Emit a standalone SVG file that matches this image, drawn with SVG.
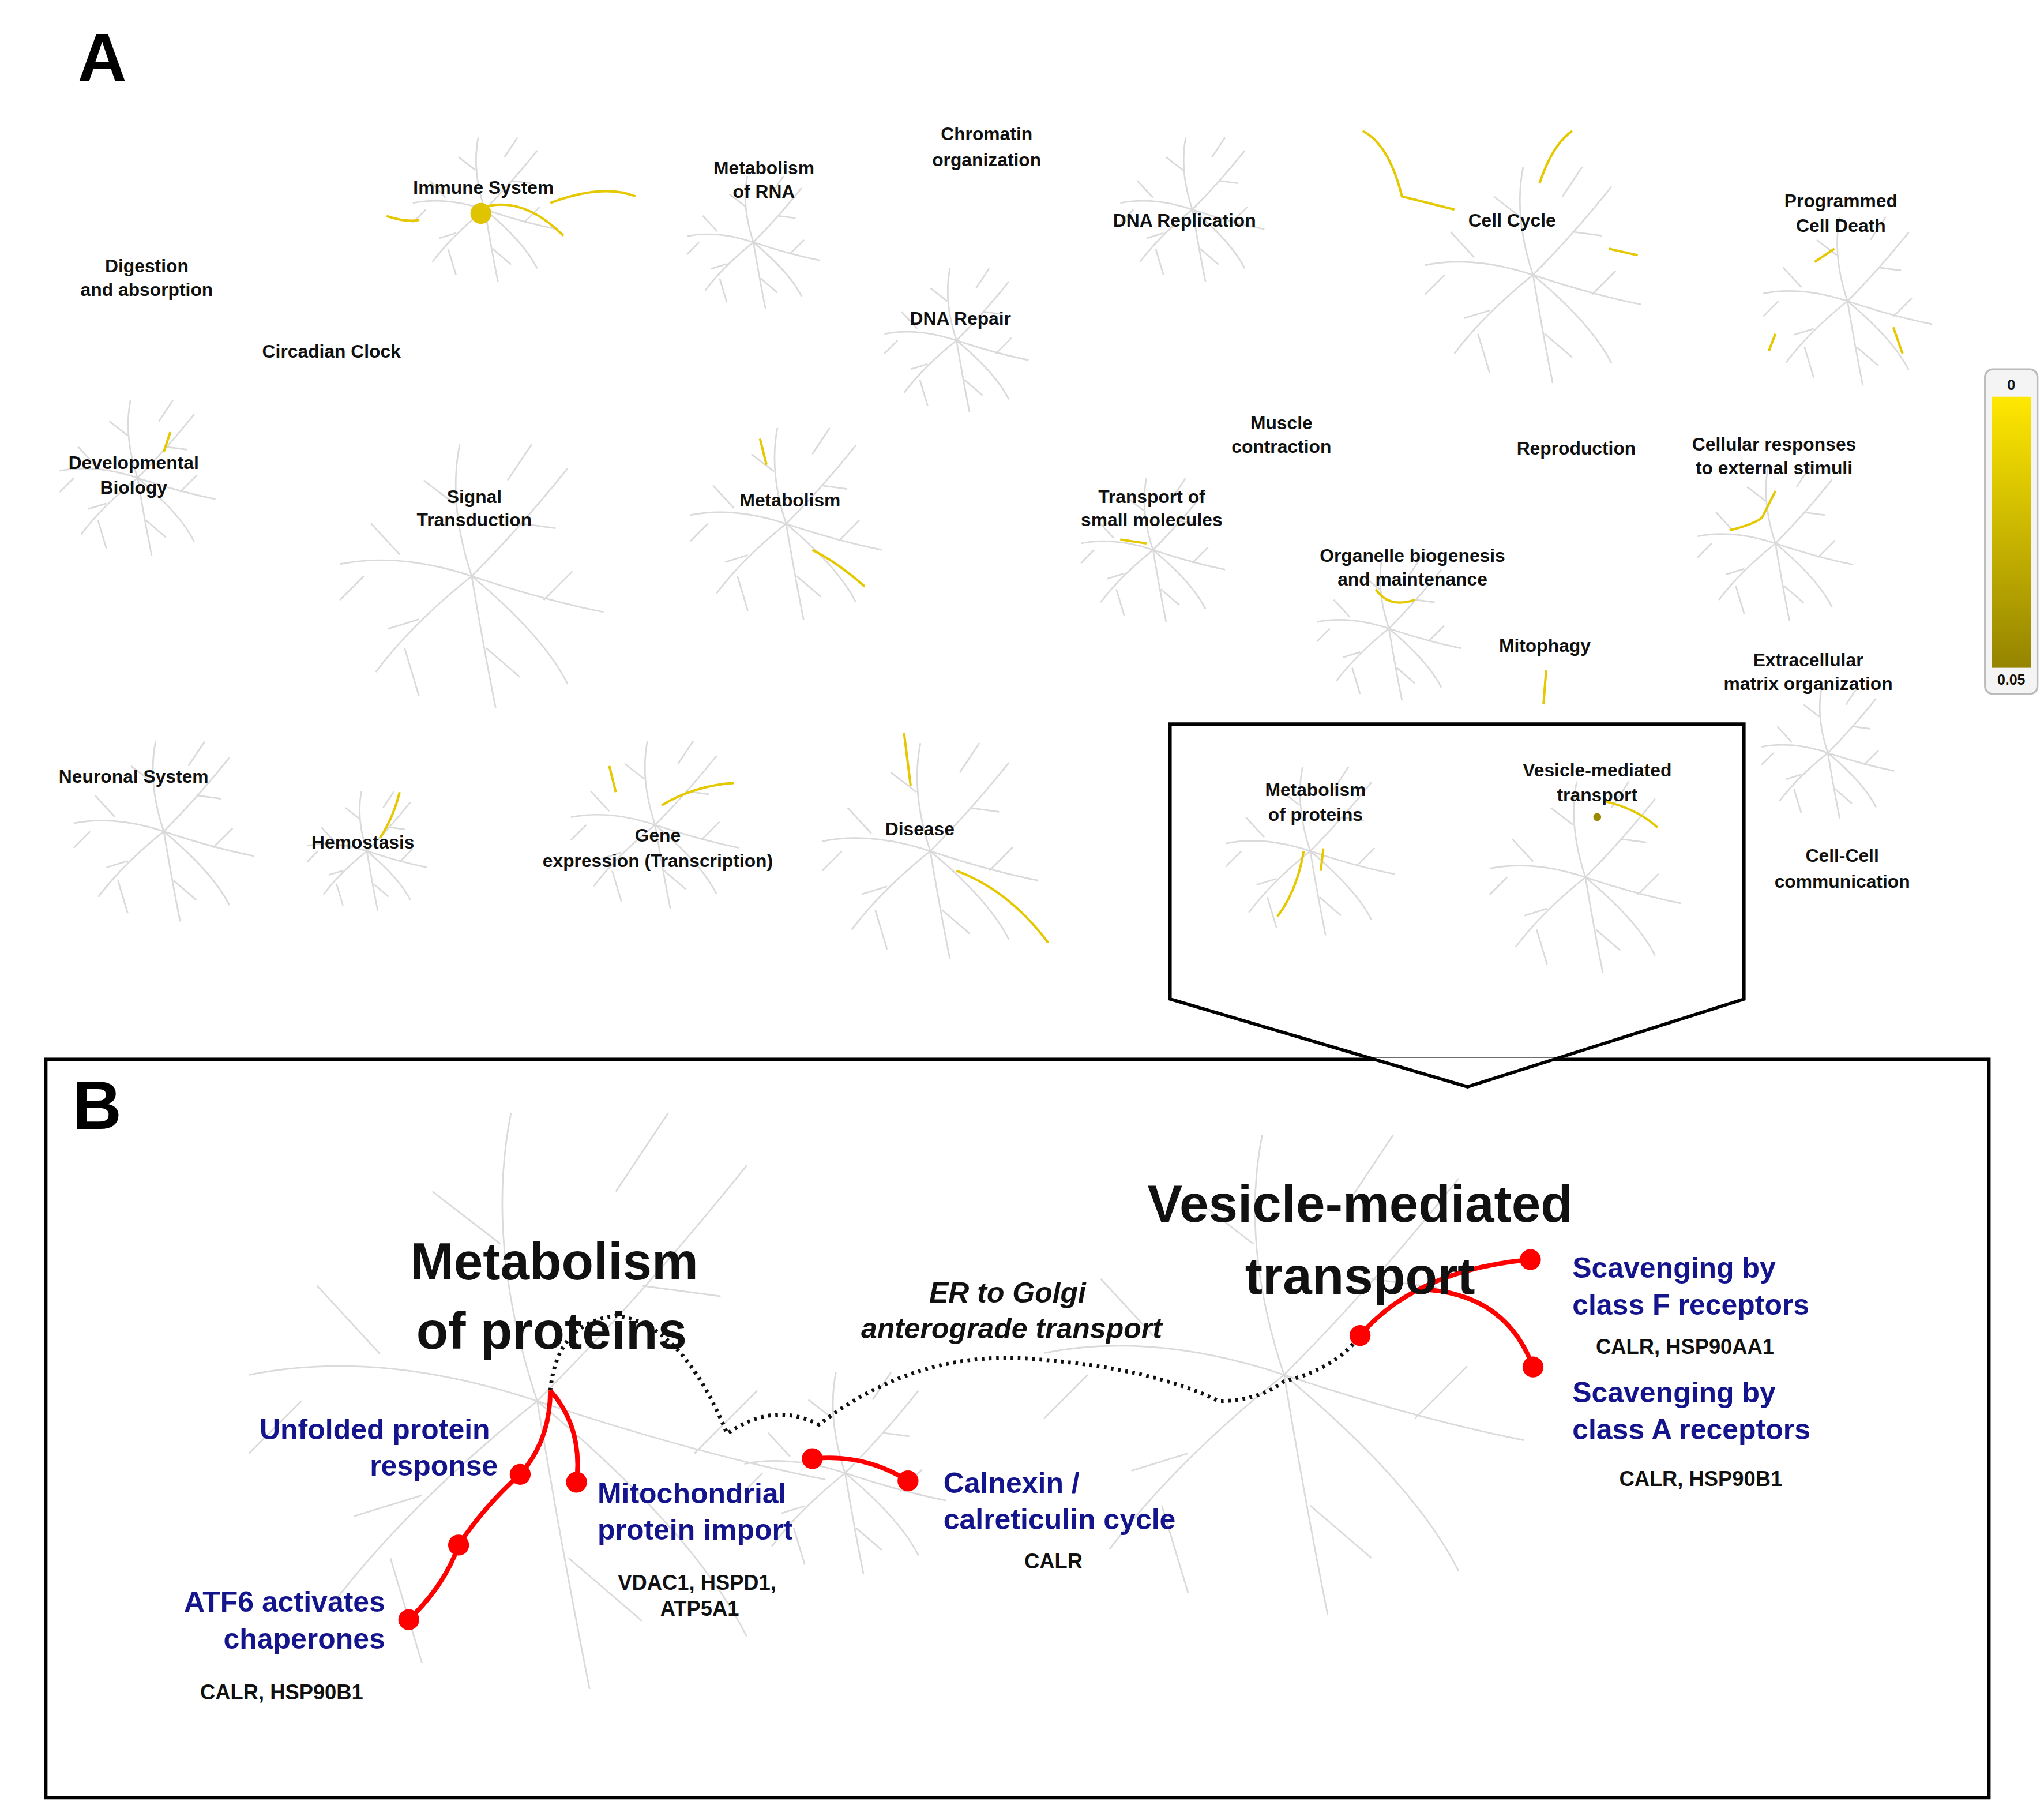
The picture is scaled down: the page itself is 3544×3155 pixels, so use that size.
<svg xmlns="http://www.w3.org/2000/svg" width="3544" height="3155" viewBox="0 0 3544 3155">
<defs>
<style>
.l{font-family:"Liberation Sans",Arial,sans-serif;font-weight:bold;font-size:14px;fill:#111;text-anchor:middle}
.big{font-family:"Liberation Sans",Arial,sans-serif;font-weight:bold;font-size:40px;fill:#111;text-anchor:middle}
.it{font-family:"Liberation Sans",Arial,sans-serif;font-weight:bold;font-style:italic;font-size:22px;fill:#111;text-anchor:middle}
.bl{font-family:"Liberation Sans",Arial,sans-serif;font-weight:bold;font-size:22px;fill:#14148c}
.g{font-family:"Liberation Sans",Arial,sans-serif;font-weight:bold;font-size:16px;fill:#111;text-anchor:middle}
.y{fill:none;stroke:#e6c800;stroke-width:1.8}
.r{fill:none;stroke:#f00;stroke-width:3.5}
.d{fill:#f00}
#trees use{fill:none;stroke:#dadada}
</style>
<linearGradient id="grad" x1="0" y1="0" x2="0" y2="1"><stop offset="0" stop-color="#ffe800"/><stop offset="1" stop-color="#958400"/></linearGradient>
<path id="tree" d="M0,0 Q20,-20 40,-45 M20,-22 L35,-20 M0,0 Q-10,-30 -5,-55 M-7,-30 L-20,-40 M0,0 Q-30,-10 -55,-5 M-30,-9 L-42,-22 M0,0 Q-25,20 -40,40 M-22,18 L-35,22 M0,0 Q5,30 10,55 M6,30 L20,42 M0,0 Q30,10 55,15 M30,10 L42,-2 M0,0 Q30,25 40,45 M-28,30 L-22,50 M15,-40 L25,-55 M-45,0 L-55,10"/>
</defs>
<rect width="3544" height="3155" fill="#fff"/>
<g transform="scale(2.2718,2.2698)">
<g id="trees">
<use href="#tree" transform="translate(370,160) scale(1)" stroke-width="1.2"/>
<use href="#tree" transform="translate(575,185) scale(0.92)" stroke-width="1.3"/>
<use href="#tree" transform="translate(730,260) scale(1)" stroke-width="1.2"/>
<use href="#tree" transform="translate(910,160) scale(1)" stroke-width="1.2"/>
<use href="#tree" transform="translate(1170,210) scale(1.5)" stroke-width="0.8"/>
<use href="#tree" transform="translate(1410,230) scale(1.17)" stroke-width="1"/>
<use href="#tree" transform="translate(105,365) scale(1.08)" stroke-width="1.1"/>
<use href="#tree" transform="translate(360,440) scale(1.83)" stroke-width="0.65"/>
<use href="#tree" transform="translate(600,400) scale(1.33)" stroke-width="0.9"/>
<use href="#tree" transform="translate(880,420) scale(1)" stroke-width="1.2"/>
<use href="#tree" transform="translate(1060,480) scale(1)" stroke-width="1.2"/>
<use href="#tree" transform="translate(1355,415) scale(1.08)" stroke-width="1.1"/>
<use href="#tree" transform="translate(125,635) scale(1.25)" stroke-width="1"/>
<use href="#tree" transform="translate(280,650) scale(0.83)" stroke-width="1.4"/>
<use href="#tree" transform="translate(500,630) scale(1.17)" stroke-width="1"/>
<use href="#tree" transform="translate(710,650) scale(1.5)" stroke-width="0.8"/>
<use href="#tree" transform="translate(1000,650) scale(1.17)" stroke-width="1"/>
<use href="#tree" transform="translate(1210,670) scale(1.33)" stroke-width="0.9"/>
<use href="#tree" transform="translate(1395,575) scale(0.92)" stroke-width="1.3"/>
<use href="#tree" transform="translate(410,1070) scale(4)" stroke-width="0.3"/>
<use href="#tree" transform="translate(980,1050) scale(3.33)" stroke-width="0.36"/>
<use href="#tree" transform="translate(645,1125) scale(1.4)" stroke-width="0.86"/>
</g>
<g id="highlights">
<circle cx="367" cy="163" r="8" fill="#e0c400"/>
<path class="y" d="M370,158 Q400,150 430,180 M420,155 Q460,140 485,150 M295,165 Q310,170 320,168"/>
<path class="y" d="M1040,100 Q1060,110 1070,150 L1110,160 M1175,140 Q1185,110 1200,100 M1228,190 L1250,195"/>
<path class="y" d="M1385,200 L1400,190 M1355,255 L1350,268 M1445,250 L1452,270"/>
<path class="y" d="M130,330 L125,345 M580,335 L585,355 M620,420 Q640,430 660,448 M855,412 L875,415"/>
<path class="y" d="M1320,405 Q1340,400 1345,395 L1355,375 M1050,450 Q1060,465 1080,458 M1180,512 L1178,538"/>
<path class="y" d="M305,605 Q300,625 290,640 M465,585 L470,605 M505,615 Q530,600 560,598 M690,560 L695,600 M730,665 Q770,680 800,720"/>
<path class="y" d="M995,650 Q990,680 975,700 M1010,648 L1008,665 M1225,612 Q1250,618 1265,632"/>
<circle cx="1219" cy="624" r="3" fill="#9a8a00"/>
</g>
<g id="panelA-labels">
<text x="78" y="62" style="font-family:'Liberation Sans',Arial,sans-serif;font-weight:bold;font-size:52px" text-anchor="middle">A</text>
<text class="l" x="369" y="148">Immune System</text>
<text class="l" x="583" y="133">Metabolism</text><text class="l" x="583" y="151">of RNA</text>
<text class="l" x="753" y="107">Chromatin</text><text class="l" x="753" y="127">organization</text>
<text class="l" x="904" y="173">DNA Replication</text>
<text class="l" x="1154" y="173">Cell Cycle</text>
<text class="l" x="1405" y="158">Programmed</text><text class="l" x="1405" y="177">Cell Death</text>
<text class="l" x="112" y="208">Digestion</text><text class="l" x="112" y="226">and absorption</text>
<text class="l" x="253" y="273">Circadian Clock</text>
<text class="l" x="733" y="248">DNA Repair</text>
<text class="l" x="102" y="358">Developmental</text><text class="l" x="102" y="377">Biology</text>
<text class="l" x="362" y="384">Signal</text><text class="l" x="362" y="402">Transduction</text>
<text class="l" x="603" y="387">Metabolism</text>
<text class="l" x="978" y="328">Muscle</text><text class="l" x="978" y="346">contraction</text>
<text class="l" x="1203" y="347">Reproduction</text>
<text class="l" x="1354" y="344">Cellular responses</text><text class="l" x="1354" y="362">to external stimuli</text>
<text class="l" x="879" y="384">Transport of</text><text class="l" x="879" y="402">small molecules</text>
<text class="l" x="1078" y="429">Organelle biogenesis</text><text class="l" x="1078" y="447">and maintenance</text>
<text class="l" x="1179" y="498">Mitophagy</text>
<text class="l" x="1380" y="509">Extracellular</text><text class="l" x="1380" y="527">matrix organization</text>
<text class="l" x="102" y="598">Neuronal System</text>
<text class="l" x="277" y="648">Hemostasis</text>
<text class="l" x="502" y="643">Gene</text><text class="l" x="502" y="662">expression (Transcription)</text>
<text class="l" x="702" y="638">Disease</text>
<text class="l" x="1004" y="608">Metabolism</text><text class="l" x="1004" y="627">of proteins</text>
<text class="l" x="1219" y="593">Vesicle-mediated</text><text class="l" x="1219" y="612">transport</text>
<text class="l" x="1406" y="658">Cell-Cell</text><text class="l" x="1406" y="678">communication</text>
</g>
<g id="legend">
<rect x="1515" y="282" width="40" height="248" rx="6" fill="#f4f4f4" stroke="#bbb" stroke-width="1.5"/>
<rect x="1520" y="303" width="30" height="207" fill="url(#grad)"/>
<text class="l" x="1535" y="298" style="font-size:11px">0</text>
<text class="l" x="1535" y="523" style="font-size:11px">0.05</text>
</g>
<g id="frames">
<rect x="35" y="809" width="1483" height="564" fill="none" stroke="#000" stroke-width="2.5"/>
<path d="M1048,808 L1192,808 L1120,829 Z" fill="#fff"/>
<path d="M893,553 H1331 V763 L1120,830 L893,763 Z" fill="none" stroke="#000" stroke-width="2.5"/>
<text x="74" y="862" style="font-family:'Liberation Sans',Arial,sans-serif;font-weight:bold;font-size:52px" text-anchor="middle">B</text>
</g>
<g id="connectors">
<path d="M420,1062 Q425,1010 470,1005 Q520,1010 555,1095 Q590,1070 625,1088 Q700,1030 790,1038 Q880,1045 930,1070 Q960,1070 980,1055 Q1020,1045 1038,1020" fill="none" stroke="#111" stroke-width="3" stroke-dasharray="2,3.5"/>
<path class="r" d="M420,1062 Q420,1100 397,1126 Q370,1150 350,1180 Q340,1210 312,1237"/>
<path class="r" d="M420,1062 Q445,1090 440,1132"/>
<path class="r" d="M620,1114 Q660,1110 693,1131"/>
<path class="r" d="M1038,1020 Q1080,970 1168,962"/>
<path class="r" d="M1090,985 Q1150,990 1170,1044"/>
</g>
<g id="nodesB">
<circle class="d" cx="397" cy="1126" r="8"/><circle class="d" cx="350" cy="1180" r="8"/><circle class="d" cx="312" cy="1237" r="8"/>
<circle class="d" cx="440" cy="1132" r="8"/><circle class="d" cx="620" cy="1114" r="8"/><circle class="d" cx="693" cy="1131" r="8"/>
<circle class="d" cx="1038" cy="1020" r="8"/><circle class="d" cx="1168" cy="962" r="8"/><circle class="d" cx="1170" cy="1044" r="8"/>
<text class="big" x="423" y="977">Metabolism</text><text class="big" x="421" y="1030">of proteins</text>
<text class="big" x="1038" y="933">Vesicle-mediated</text><text class="big" x="1038" y="988">transport</text>
<text class="it" x="769" y="995">ER to Golgi</text><text class="it" x="772" y="1022">anterograde transport</text>
<text class="bl" x="374" y="1099" text-anchor="end">Unfolded protein</text><text class="bl" x="380" y="1127" text-anchor="end">response</text>
<text class="bl" x="456" y="1148">Mitochondrial</text><text class="bl" x="456" y="1176">protein import</text>
<text class="bl" x="294" y="1231" text-anchor="end">ATF6 activates</text><text class="bl" x="294" y="1259" text-anchor="end">chaperones</text>
<text class="bl" x="720" y="1140">Calnexin /</text><text class="bl" x="720" y="1168">calreticulin cycle</text>
<text class="bl" x="1200" y="976">Scavenging by</text><text class="bl" x="1200" y="1004">class F receptors</text>
<text class="bl" x="1200" y="1071">Scavenging by</text><text class="bl" x="1200" y="1099">class A receptors</text>
<text class="g" x="215" y="1298">CALR, HSP90B1</text>
<text class="g" x="532" y="1214">VDAC1, HSPD1,</text><text class="g" x="534" y="1234">ATP5A1</text>
<text class="g" x="804" y="1198">CALR</text>
<text class="g" x="1286" y="1034">CALR, HSP90AA1</text>
<text class="g" x="1298" y="1135">CALR, HSP90B1</text>
</g>
</g>
</svg>
